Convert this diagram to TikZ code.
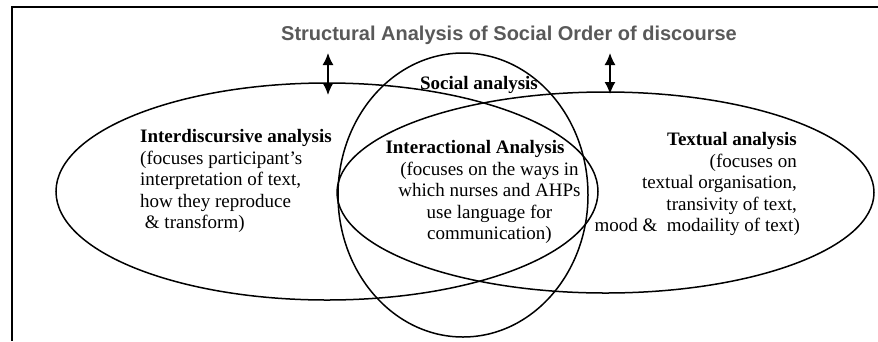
\documentclass[tikz,border=0pt]{standalone}
\usepackage{fontspec}
\setmainfont{Liberation Serif}
\newfontfamily\titlefont{Liberation Sans}
\usetikzlibrary{arrows.meta}
\definecolor{titlegray}{HTML}{595959}
\tikzset{
  ring/.style={draw=black, line width=1.5pt},
  frameline/.style={draw=black, line width=2pt},
  dblarrow/.style={line width=1.5pt, {Latex[length=12pt,width=11pt]}-{Latex[length=12pt,width=11pt]}},
  txt/.style={inner sep=0pt, font=\fontsize{19}{21.5}\selectfont},
}
\begin{document}
\begin{tikzpicture}[x=1pt,y=-1pt]
\useasboundingbox (0,0) rectangle (878,341);
% frame
\coordinate (fTL) at (12,7);
\coordinate (fTR) at (878,7);
\coordinate (fBL) at (12,341);
\draw[frameline] (fTR) -- (fTL) -- (fBL);
% ellipses
\draw[ring] (327,191.5) ellipse [x radius=271, y radius=108.5];
\draw[ring] (605.5,192.5) ellipse [x radius=268.5, y radius=100.5];
\draw[ring] (463,195) ellipse [x radius=125, y radius=142];
% title
\node[inner sep=0pt, anchor=base, text=titlegray, font=\titlefont\bfseries\fontsize{20}{24}\selectfont] (title) at (509,40) {Structural Analysis of Social Order of discourse};
% arrows
\coordinate (a1t) at (328,53);
\coordinate (a1b) at (328,95);
\coordinate (a2t) at (610,53);
\coordinate (a2b) at (610,94);
\draw[dblarrow] (a1t) -- (a1b);
\draw[dblarrow] (a2t) -- (a2b);
% texts
\node[txt, anchor=base] (social) at (479,89) {\bfseries Social analysis};
\node[txt, anchor=north west, align=left] (left) at (140,129.2) {\textbf{Interdiscursive analysis}\\(focuses participant’s\\interpretation of text,\\how they reproduce\\\ \& transform)};
\node[txt, anchor=north, align=center] (mid) at (489.5,140.2) {\hbox{\textbf{Interactional Analysis}\kern29pt}\\(focuses on the ways in\\which nurses and AHPs\\use language for\\communication)};
\node[txt, anchor=north east, align=right] (right) at (797,132.2) {\textbf{Textual analysis}\\(focuses on\\textual organisation,\\transivity of text,\\\hbox{mood \&~ modaility of text)\kern-3pt}};
\end{tikzpicture}
\end{document}
